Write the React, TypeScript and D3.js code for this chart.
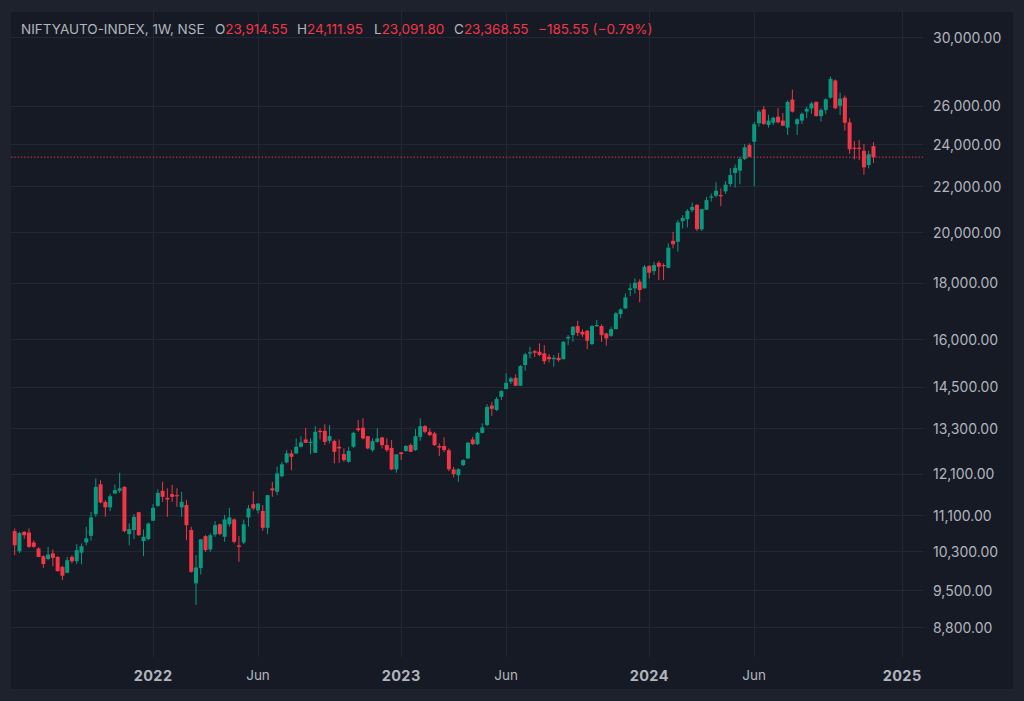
import React from "react";
import * as d3 from "d3";

const startDate = Date.UTC(2021, 5, 14); // first weekly bar (Mon)
const WEEK = 7 * 24 * 3600 * 1000;

const opens = [
  10740, 10300, 10725, 10710, 10490, 10360, 10195, 10135, 10255, 10180,
  9970, 9850, 10180, 10090, 10270, 10490, 10635, 11125, 11840, 11410,
  11285, 11615, 11680, 11775, 10675, 10765, 11170, 10520, 10565, 10975,
  11320, 11680, 11510, 11600, 11575, 11285, 11340, 10765, 9635, 9950,
  10630, 10340, 10665, 10895, 10615, 10895, 11005, 10425, 10490, 11050,
  11360, 11215, 11200, 10815, 11740, 11655, 12040, 12390, 12625, 12625,
  12800, 12995, 12905, 12640, 13230, 13230, 12960, 12955, 12800, 12605,
  12405, 12800, 13300, 13315, 13085, 12710, 12930, 13050, 12845, 12770,
  12210, 12650, 12690, 12845, 12710, 13065, 13360, 13205, 13160, 12820,
  12820, 12710, 12210, 12065, 12320, 12495, 12995, 12870, 13175, 13390,
  13945, 13815, 14200, 14430, 14650, 14770, 14530, 15170, 15540, 15615,
  15595, 15540, 15430, 15355, 15400, 15355, 16035, 16145, 16450, 16255,
  16290, 15845, 16450, 16450, 16200, 16120, 16345, 16865, 17065, 17730,
  17790, 18040, 17790, 18635, 18440, 18760, 18675, 18570, 19640, 19600,
  20460, 20545, 20930, 21160, 20110, 20950, 21490, 21570, 21600, 21765,
  22100, 22615, 22725, 23280, 23960, 24130, 25075, 25815, 24990, 25100,
  25420, 25215, 24850, 26340, 25025, 25215, 25690, 25860, 26220, 25455,
  25780, 26445, 27405, 26000, 26445, 25125, 23830, 23830, 23680, 22990,
  23914.55,
];
const highs = [
  10800, 10725, 10740, 10800, 10535, 10390, 10215, 10395, 10340, 10195,
  9995, 10180, 10215, 10455, 10470, 10840, 11180, 11985, 11940, 11455,
  11600, 11835, 12125, 11795, 10910, 11130, 11180, 10780, 10935, 11360,
  11715, 11900, 11740, 11825, 11740, 11655, 11455, 10840, 10215, 10565,
  10650, 10690, 10965, 10910, 11105, 11275, 11030, 10630, 11005, 11340,
  11670, 11375, 11340, 11575, 11900, 12280, 12400, 12710, 12710, 13025,
  13085, 13315, 13025, 13360, 13300, 13415, 13390, 12995, 12995, 12755,
  12800, 13205, 13530, 13580, 13085, 13025, 13300, 13065, 13025, 12980,
  12600, 12665, 12845, 12890, 13280, 13580, 13390, 13300, 13205, 12890,
  13050, 12755, 12275, 12240, 12470, 12930, 13065, 13205, 13440, 13985,
  14050, 14190, 14400, 14910, 14805, 14880, 15170, 15560, 15755, 15650,
  15870, 15810, 15520, 15485, 15560, 15945, 16145, 16450, 16630, 16335,
  16315, 16485, 16655, 16510, 16220, 16425, 16935, 17065, 17605, 17975,
  18165, 18130, 18675, 18675, 18800, 18825, 18740, 19540, 20010, 20505,
  20715, 20975, 21265, 21200, 20990, 21515, 21670, 22180, 21900, 22235,
  22845, 23015, 23390, 24015, 24050, 25150, 25780, 26000, 25520, 25420,
  25870, 25610, 26300, 26890, 25340, 25640, 25960, 26220, 26220, 25870,
  26410, 27630, 27465, 26720, 26570, 25335, 24160, 24210, 24015, 23680,
  24111.95,
];
const lows = [
  10220, 10265, 10570, 10375, 10375, 10175, 9950, 10110, 9985, 9870,
  9700, 9840, 10045, 10030, 10025, 10430, 10530, 11065, 11380, 11065,
  11200, 11600, 11630, 10710, 10430, 10565, 10635, 10195, 10540, 10975,
  11295, 11415, 11065, 11415, 11295, 11065, 10540, 9850, 9210, 9815,
  10290, 10290, 10615, 10650, 10505, 10840, 10470, 10075, 10455, 10840,
  11215, 11140, 10750, 10675, 11535, 11575, 12010, 12365, 12190, 12605,
  12780, 12905, 12605, 12640, 12995, 12845, 12890, 12365, 12380, 12405,
  12380, 12770, 13205, 12995, 12730, 12665, 12905, 12755, 12665, 12190,
  12125, 12450, 12665, 12655, 12690, 12960, 13160, 13085, 12820, 12555,
  12665, 12165, 12010, 11900, 12295, 12475, 12845, 12845, 13160, 13360,
  13650, 13790, 14105, 14430, 14580, 14520, 14520, 14990, 15380, 15430,
  15455, 15195, 15250, 15115, 15270, 15355, 15810, 15920, 16110, 16085,
  15680, 15810, 16425, 15920, 15790, 16085, 16345, 16715, 17040, 17505,
  17605, 17285, 17790, 18165, 18290, 18100, 18100, 18550, 19335, 19200,
  20150, 20195, 20840, 20045, 20050, 20935, 21315, 21490, 21105, 21650,
  21975, 21930, 22090, 23230, 23375, 22000, 24900, 24990, 24850, 24990,
  25070, 24950, 24470, 25640, 24470, 25035, 25340, 25570, 25420, 25165,
  25570, 26390, 25815, 25510, 24700, 23535, 23265, 23230, 22530, 22835,
  23091.8,
];
const closes = [
  10430, 10700, 10650, 10395, 10395, 10180, 10030, 10230, 10160, 9885,
  9790, 10110, 10090, 10325, 10410, 10580, 11050, 11775, 11400, 11285,
  11550, 11695, 11740, 10740, 10785, 11065, 10650, 10615, 10910, 11275,
  11630, 11535, 11470, 11535, 11550, 11415, 10875, 9870, 9960, 10560,
  10325, 10650, 10875, 10675, 11005, 11050, 10505, 10395, 10895, 11260,
  11260, 11375, 10815, 11575, 11690, 12110, 12340, 12625, 12535, 12800,
  12915, 12905, 12930, 13205, 13205, 12930, 13085, 12665, 12755, 12450,
  12690, 13175, 13250, 13025, 12755, 12950, 13025, 12845, 12710, 12210,
  12600, 12605, 12820, 12665, 13085, 13360, 13205, 13115, 12845, 12780,
  12710, 12215, 12095, 12215, 12450, 12905, 12870, 13175, 13325, 13905,
  13850, 14135, 14370, 14620, 14755, 14530, 15135, 15510, 15575, 15560,
  15490, 15290, 15355, 15400, 15325, 15920, 16085, 16425, 16220, 16165,
  15955, 16450, 16485, 16145, 16035, 16345, 16890, 17030, 17460, 17790,
  18000, 17730, 18610, 18380, 18675, 18610, 18635, 19360, 19500, 20405,
  20600, 20900, 21075, 20120, 20975, 21375, 21535, 21795, 21570, 22070,
  22515, 22855, 23280, 23850, 23390, 25025, 25690, 25040, 25215, 25365,
  25125, 24950, 26210, 25690, 25285, 25570, 25840, 26130, 25455, 25780,
  26355, 27500, 25870, 26395, 25100, 23755, 23770, 23770, 22880, 23510,
  23368.55,
];

const priceTicks = [30000, 26000, 24000, 22000, 20000, 18000, 16000, 14500, 13300, 12100, 11100, 10300, 9500, 8800];
const timeTicks = [
  { date: Date.UTC(2022, 0, 3), label: "2022", year: true },
  { date: Date.UTC(2022, 5, 6), label: "Jun", year: false },
  { date: Date.UTC(2023, 0, 2), label: "2023", year: true },
  { date: Date.UTC(2023, 5, 5), label: "Jun", year: false },
  { date: Date.UTC(2024, 0, 1), label: "2024", year: true },
  { date: Date.UTC(2024, 5, 3), label: "Jun", year: false },
  { date: Date.UTC(2025, 0, 6), label: "2025", year: true },
];

const symbolText = "NIFTYAUTO-INDEX, 1W, NSE";
const lastChange = "\u2212185.55 (\u22120.79%)";

const UP = "#089981";
const DOWN = "#f23645";
const FONT = "Inter, 'Noto Sans', Roboto, sans-serif";

export default function App() {
  const W = 1024, H = 701;
  const plotL = 11, plotR = 923, plotT = 12, plotB = 657;
  const n = closes.length;
  const dates = d3.range(n).map((i) => startDate + i * WEEK);

  const x = d3.scaleTime()
    .domain([new Date(dates[0]), new Date(dates[n - 1])])
    .range([14.7, 14.7 + (n - 1) * 4.771]);
  const y = d3.scaleLog().domain([8800, 30000]).range([627, 37]);
  const fmt = d3.format(",.2f");
  const bw = 4;

  const last = closes[n - 1];

  return (
    <svg width={W} height={H} style={{ position: "absolute", left: 0, top: 0, display: "block" }}>
      <rect x={0} y={0} width={W} height={H} fill="#1e222d" />
      <rect x={plotL} y={plotT} width={1013 - plotL} height={689 - plotT} fill="#161a25" />
      <clipPath id="plotclip">
        <rect x={plotL} y={plotT} width={plotR - plotL} height={plotB - plotT} />
      </clipPath>
      {/* grid */}
      <g stroke="#232733" strokeWidth={1}>
        {priceTicks.map((t) => (
          <line key={t} x1={plotL} x2={plotR} y1={Math.round(y(t)) + 0.5} y2={Math.round(y(t)) + 0.5} />
        ))}
        {timeTicks.map((t) => (
          <line key={t.date} x1={Math.round(x(new Date(t.date))) + 0.5} x2={Math.round(x(new Date(t.date))) + 0.5} y1={plotT} y2={plotB} />
        ))}
      </g>
      {/* candles */}
      <g clipPath="url(#plotclip)">
        {dates.map((d, i) => {
          const o = opens[i], c = closes[i], h = highs[i], l = lows[i];
          const col = c >= o ? UP : DOWN;
          const cx = x(new Date(d));
          const yt = y(Math.max(o, c));
          const yb = y(Math.min(o, c));
          return (
            <g key={i}>
              <line x1={cx} x2={cx} y1={y(h)} y2={y(l)} stroke={col} strokeWidth={1} />
              <rect x={cx - bw / 2} y={yt} width={bw} height={Math.max(1.2, yb - yt)} fill={col} />
            </g>
          );
        })}
        <line x1={plotL} x2={plotR} y1={y(last)} y2={y(last)} stroke={DOWN} strokeWidth={1} strokeDasharray="1.3 2" />
      </g>
      {/* price axis labels */}
      <g fontFamily={FONT} fontSize={14} fill="#b2b5be">
        {priceTicks.map((t) => (
          <text key={t} x={933} y={y(t)} dominantBaseline="central">{fmt(t)}</text>
        ))}
      </g>
      {/* time axis labels */}
      <g fontFamily={FONT} fill="#b2b5be" textAnchor="middle">
        {timeTicks.map((t) => (
          <text key={t.date} x={x(new Date(t.date))} y={675} dominantBaseline="central"
            fontSize={t.year ? 14.5 : 13.5} fontWeight={t.year ? 700 : 400} letterSpacing={t.year ? 0.4 : 0}>{t.label}</text>
        ))}
      </g>
      {/* header */}
      <g fontFamily={FONT} fontSize={13.5} dominantBaseline="central">
        <text x={21} y={29} fill="#b2b5be">{symbolText}</text>
        <text x={215} y={29} fill="#b2b5be">O<tspan fill={DOWN}>{fmt(opens[n - 1])}</tspan></text>
        <text x={297} y={29} fill="#b2b5be">H<tspan fill={DOWN}>{fmt(highs[n - 1])}</tspan></text>
        <text x={374} y={29} fill="#b2b5be">L<tspan fill={DOWN}>{fmt(lows[n - 1])}</tspan></text>
        <text x={454} y={29} fill="#b2b5be">C<tspan fill={DOWN}>{fmt(closes[n - 1])}</tspan></text>
        <text x={538} y={29} fill={DOWN}>{lastChange}</text>
      </g>
    </svg>
  );
}
